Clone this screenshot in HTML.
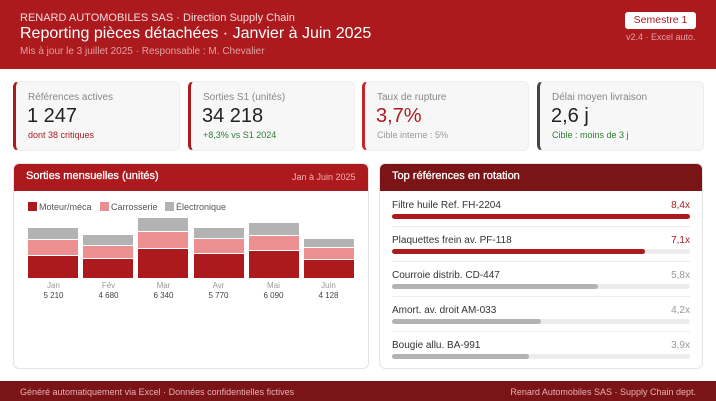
<!DOCTYPE html>
<html><head><meta charset="utf-8"><style>
*{margin:0;padding:0;box-sizing:border-box}
body{width:716px;height:401px;background:#fff;font-family:"Liberation Sans",sans-serif;position:relative;overflow:hidden}
.a{position:absolute;white-space:nowrap}
.card{position:absolute;top:81px;height:70px;width:167px;background:#f7f7f7;border-radius:6px;border:1px solid #eee;border-left:3px solid #ad1a1d}
.card .l{position:absolute;left:12px;top:10px;font-size:10px;color:#888}
.card .v{position:absolute;left:11px;top:23px;font-size:20px;color:#222}
.card .s{position:absolute;left:12px;top:48px;font-size:9px}
.bar{position:absolute;width:50px}
.row{position:absolute;left:392px;width:298px}
.row .n{position:absolute;left:0;top:0;font-size:10px;color:#333}
.row .x{position:absolute;right:0;top:0;font-size:10px;color:#999}
.row .t{position:absolute;left:0;top:14px;height:5px;width:298px;background:#ececec;border-radius:3px}
.row .f{position:absolute;left:0;top:14px;height:5px;border-radius:3px;background:#b3b3b3}
.sep{position:absolute;left:392px;width:298px;height:1px;background:#ececec}
</style></head><body>
<div class="a" style="left:0;top:0;width:716px;height:69px;background:#ad1a1d"></div>
<div class="a" style="left:20px;top:12px;font-size:11px;color:#f3dada">RENARD AUTOMOBILES SAS · Direction Supply Chain</div>
<div class="a" style="left:20px;top:25px;font-size:16px;color:#fff">Reporting pièces détachées · Janvier à Juin 2025</div>
<div class="a" style="left:20px;top:46px;font-size:10px;color:#e0a0a0">Mis à jour le 3 juillet 2025 · Responsable : M. Chevalier</div>
<div class="a" style="left:625px;top:12px;width:71px;height:17px;background:#fff;border-radius:3px;font-size:10.5px;color:#ad1a1d;text-align:center;line-height:17px">Semestre 1</div>
<div class="a" style="left:626px;top:32px;font-size:9px;color:#e0a0a0">v2.4 · Excel auto.</div>

<div class="card" style="left:13px"><div class="l">Références actives</div><div class="v">1 247</div><div class="s" style="color:#ad1a1d">dont 38 critiques</div></div>
<div class="card" style="left:188px"><div class="l">Sorties S1 (unités)</div><div class="v">34 218</div><div class="s" style="color:#2e7d32">+8,3% vs S1 2024</div></div>
<div class="card" style="left:362px;border-left-color:#c8242a"><div class="l">Taux de rupture</div><div class="v" style="color:#ad1a1d">3,7%</div><div class="s" style="color:#999">Cible interne : 5%</div></div>
<div class="card" style="left:537px;border-left-color:#444"><div class="l">Délai moyen livraison</div><div class="v">2,6 j</div><div class="s" style="color:#2e7d32">Cible : moins de 3 j</div></div>

<div class="a" style="left:13px;top:163px;width:356px;height:206px;border:1px solid #e4e4e4;border-radius:6px;overflow:hidden">
<div style="height:27px;background:#ad1a1d"></div></div>
<div class="a" style="left:26px;top:170px;font-size:11px;color:#fff;-webkit-text-stroke:0.3px #fff">Sorties mensuelles (unités)</div>
<div class="a" style="left:292px;top:172px;font-size:9px;color:#f0b0b0">Jan à Juin 2025</div>
<div class="a" style="left:28px;top:202px;width:9px;height:9px;background:#ad1a1d"></div>
<div class="a" style="left:39px;top:202px;font-size:9px;color:#555">Moteur/méca</div>
<div class="a" style="left:100px;top:202px;width:9px;height:9px;background:#ec8f90"></div>
<div class="a" style="left:111px;top:202px;font-size:9px;color:#555">Carrosserie</div>
<div class="a" style="left:165px;top:202px;width:9px;height:9px;background:#b3b3b3"></div>
<div class="a" style="left:176px;top:202px;font-size:9px;color:#555">Électronique</div>

<div class="bar" style="left:28px;top:228px;height:11px;background:#b3b3b3"></div><div class="bar" style="left:28px;top:240px;height:15px;background:#ec8f90"></div><div class="bar" style="left:28px;top:256px;height:22px;background:#ad1a1d"></div>
<div class="bar" style="left:83px;top:235px;height:10px;background:#b3b3b3"></div><div class="bar" style="left:83px;top:246px;height:12px;background:#ec8f90"></div><div class="bar" style="left:83px;top:259px;height:19px;background:#ad1a1d"></div>
<div class="bar" style="left:138px;top:218px;height:13px;background:#b3b3b3"></div><div class="bar" style="left:138px;top:232px;height:16px;background:#ec8f90"></div><div class="bar" style="left:138px;top:249px;height:29px;background:#ad1a1d"></div>
<div class="bar" style="left:194px;top:228px;height:10px;background:#b3b3b3"></div><div class="bar" style="left:194px;top:239px;height:14px;background:#ec8f90"></div><div class="bar" style="left:194px;top:254px;height:24px;background:#ad1a1d"></div>
<div class="bar" style="left:249px;top:223px;height:12px;background:#b3b3b3"></div><div class="bar" style="left:249px;top:236px;height:14px;background:#ec8f90"></div><div class="bar" style="left:249px;top:251px;height:27px;background:#ad1a1d"></div>
<div class="bar" style="left:304px;top:239px;height:8px;background:#b3b3b3"></div><div class="bar" style="left:304px;top:248px;height:11px;background:#ec8f90"></div><div class="bar" style="left:304px;top:260px;height:18px;background:#ad1a1d"></div>
<div class="a" style="left:28px;top:281px;width:331px;font-size:8px;color:#999;display:flex">
<span style="width:55px;text-align:center;margin-left:-2px">Jan</span><span style="width:55px;text-align:center">Fév</span><span style="width:55px;text-align:center">Mar</span><span style="width:55px;text-align:center">Avr</span><span style="width:55px;text-align:center">Mai</span><span style="width:55px;text-align:center">Juin</span></div>
<div class="a" style="left:28px;top:291px;width:331px;font-size:8px;color:#444;display:flex">
<span style="width:55px;text-align:center;margin-left:-2px">5 210</span><span style="width:55px;text-align:center">4 680</span><span style="width:55px;text-align:center">6 340</span><span style="width:55px;text-align:center">5 770</span><span style="width:55px;text-align:center">6 090</span><span style="width:55px;text-align:center">4 128</span></div>

<div class="a" style="left:379px;top:163px;width:324px;height:206px;border:1px solid #e4e4e4;border-radius:6px;overflow:hidden">
<div style="height:27px;background:#7a1416"></div></div>
<div class="a" style="left:392px;top:170px;font-size:11px;color:#fff;-webkit-text-stroke:0.3px #fff">Top références en rotation</div>

<div class="row" style="top:200px"><div class="n">Filtre huile Ref. FH-2204</div><div class="x" style="color:#ad1a1d">8,4x</div><div class="t"></div><div class="f" style="width:100%;background:#ad1a1d"></div></div>
<div class="sep" style="top:226px"></div>
<div class="row" style="top:235px"><div class="n">Plaquettes frein av. PF-118</div><div class="x" style="color:#ad1a1d">7,1x</div><div class="t"></div><div class="f" style="width:85%;background:#ad1a1d"></div></div>
<div class="sep" style="top:261px"></div>
<div class="row" style="top:270px"><div class="n">Courroie distrib. CD-447</div><div class="x">5,8x</div><div class="t"></div><div class="f" style="width:69%"></div></div>
<div class="sep" style="top:296px"></div>
<div class="row" style="top:305px"><div class="n">Amort. av. droit AM-033</div><div class="x">4,2x</div><div class="t"></div><div class="f" style="width:50%"></div></div>
<div class="sep" style="top:331px"></div>
<div class="row" style="top:340px"><div class="n">Bougie allu. BA-991</div><div class="x">3,9x</div><div class="t"></div><div class="f" style="width:46%"></div></div>

<div class="a" style="left:0;top:381px;width:716px;height:20px;background:#7a1416"></div>
<div class="a" style="left:20px;top:387px;font-size:9px;color:#e8b0b0">Généré automatiquement via Excel · Données confidentielles fictives</div>
<div class="a" style="right:20px;top:387px;font-size:9px;color:#e8b0b0">Renard Automobiles SAS · Supply Chain dept.</div>
</body></html>
